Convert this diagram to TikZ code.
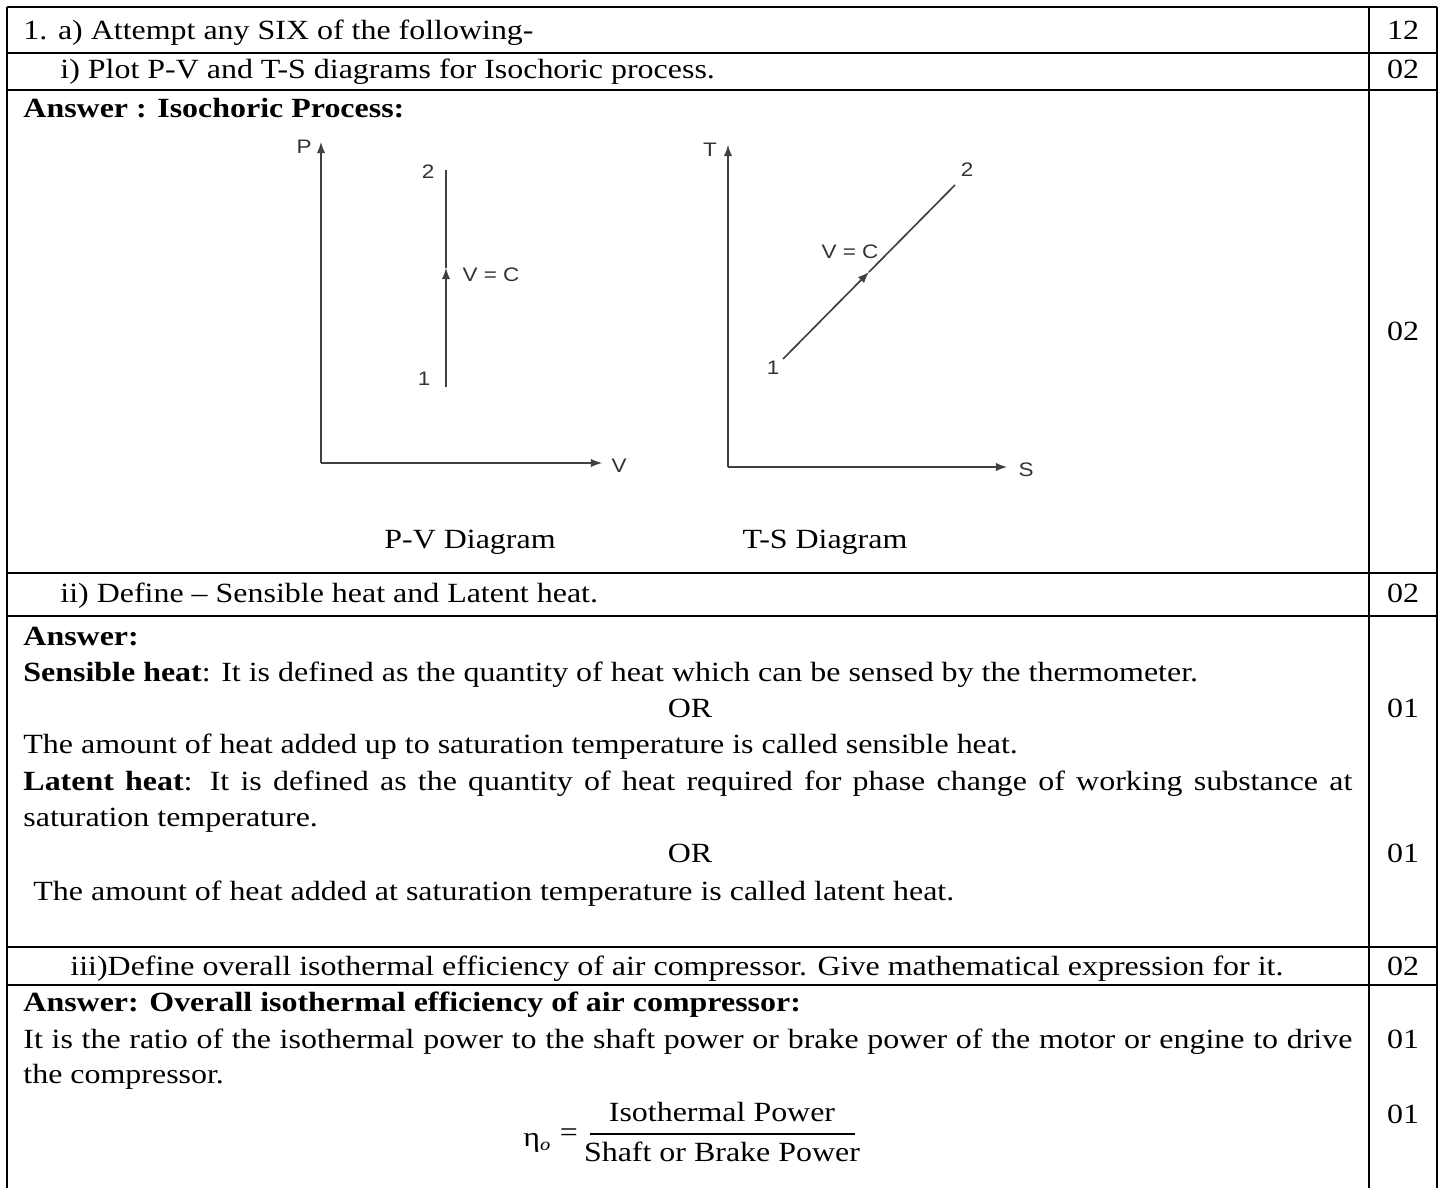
\documentclass[tikz,border=0pt]{standalone}
\usepackage{fontspec}
\setmainfont{Liberation Serif}[FakeStretch=1.15]
\newfontfamily\plotfont{Liberation Sans}[FakeStretch=1.15]
\usetikzlibrary{arrows,positioning}

\newcommand{\jline}[1]{\makebox[598pt][s]{#1}}

\begin{document}
\begin{tikzpicture}[
		x=0.45pt, y=-0.45pt,
		gridline/.style={line width=1.1pt},
		txt/.style={anchor=base west, inner sep=0pt, font=\fontsize{12.5}{14}\selectfont},
		score/.style={anchor=base, inner sep=0pt, font=\fontsize{12.5}{14}\selectfont},
		arrow/.style={draw=black!75, line width=0.75pt, -latex},
		curve/.style={draw=black!75, line width=0.75pt},
		lbl/.style={inner sep=0pt, text=black!80, font=\plotfont\fontsize{8.8}{10}\selectfont},
	]
		\useasboundingbox (0,0) rectangle (1438,1188);

		\foreach \y in {7,53,90,573,616,947,985}
			\draw[gridline] (7,\y) -- (1437,\y);
		\draw[gridline] (7,7) -- (7,1188);
		\draw[gridline] (1369,7) -- (1369,1188);
		\draw[gridline] (1437,7) -- (1437,1188);

		\node[txt] (q1) at (23,39) {1. a) Attempt any SIX of the following-};
		\node[score] (m1) at (1403,39) {12};
		\node[txt] (q1i) at (60,78) {i) Plot P-V and T-S diagrams for Isochoric process.};
		\node[score] (m1i) at (1403,78) {02};
		\node[txt] (a1i) at (23,117) {\textbf{Answer : Isochoric Process:}};
		\node[score] (m1ia) at (1403,340) {02};

		\coordinate (pvo) at (321,463);
		\coordinate (pvy) at (321,142);
		\coordinate (pvx) at (602,463);
		\draw[arrow] (pvo) -- (pvy);
		\draw[arrow] (pvo) -- (pvx);
		\node[lbl] (pvp) at (304,147) {P};
		\node[lbl] (pvv) at (619,466) {V};
		\coordinate (pv1) at (446,387);
		\coordinate (pvm) at (446,268);
		\coordinate (pv2) at (446,170);
		\draw[arrow] (pv1) -- (pvm);
		\draw[curve] (pvm) -- (pv2);
		\node[lbl] (pvtwo) at (428,172) {2};
		\node[lbl] (pvone) at (424,379) {1};
		\node[lbl] (pvc) at (491,275) {V = C};

		\coordinate (tso) at (728,467);
		\coordinate (tsy) at (728,145);
		\coordinate (tsx) at (1007,467);
		\draw[arrow] (tso) -- (tsy);
		\draw[arrow] (tso) -- (tsx);
		\node[lbl] (tst) at (710,150) {T};
		\node[lbl] (tss) at (1026,470) {S};
		\coordinate (ts1) at (783,359);
		\coordinate (tsm) at (869,272);
		\coordinate (ts2) at (955,185);
		\draw[arrow] (ts1) -- (tsm);
		\draw[curve] (tsm) -- (ts2);
		\node[lbl] (tsone) at (773,368) {1};
		\node[lbl] (tstwo) at (967,170) {2};
		\node[lbl] (tsc) at (850,252) {V = C};

		\node[score] (cappv) at (470,548) {P-V Diagram};
		\node[score] (capts) at (825,548) {T-S Diagram};

		\node[txt] (q1ii) at (60,602) {ii) Define – Sensible heat and Latent heat.};
		\node[score] (m1ii) at (1403,602) {02};
		\node[txt] (a1ii) at (23,645) {\textbf{Answer:}};
		\node[txt] (sens) at (23,681) {\textbf{Sensible heat}: It is defined as the quantity of heat which can be sensed by the thermometer.};
		\node[score] (or1) at (690,717) {OR};
		\node[score] (m1iia) at (1403,717) {01};
		\node[txt] (sens2) at (23,753) {The amount of heat added up to saturation temperature is called sensible heat.};
		\node[txt] (lat) at (23,790) {\jline{\textbf{Latent heat}: It is defined as the quantity of heat required for phase change of working substance at}};
		\node[txt] (latb) at (23,826) {saturation temperature.};
		\node[score] (or2) at (690,862) {OR};
		\node[score] (m1iib) at (1403,862) {01};
		\node[txt] (lat2) at (33,900) {The amount of heat added at saturation temperature is called latent heat.};

		\node[txt] (q1iii) at (70,975) {iii)Define overall isothermal efficiency of air compressor. Give mathematical expression for it.};
		\node[score] (m1iii) at (1403,975) {02};
		\node[txt] (a1iii) at (23,1011) {\textbf{Answer: Overall isothermal efficiency of air compressor:}};
		\node[txt] (ratio) at (23,1048) {\jline{It is the ratio of the isothermal power to the shaft power or brake power of the motor or engine to drive}};
		\node[score] (m1iiia) at (1403,1048) {01};
		\node[txt] (ratiob) at (23,1083) {the compressor.};
		\node[txt] (eta) at (523,1146) {η\raisebox{-0.35ex}{\fontsize{8}{9}\selectfont\itshape o}};
		\node[inner sep=0pt, font=\fontsize{12.5}{14}\selectfont] (eq) at (569,1135) {=};
		\node[score] (num) at (722,1121) {Isothermal Power};
		\node[score] (den) at (722,1161) {Shaft or Brake Power};
		\draw[line width=0.9pt] (590,1134) -- (855,1134);
		\node[score] (m1iiib) at (1403,1123) {01};
	\end{tikzpicture}
\end{document}
